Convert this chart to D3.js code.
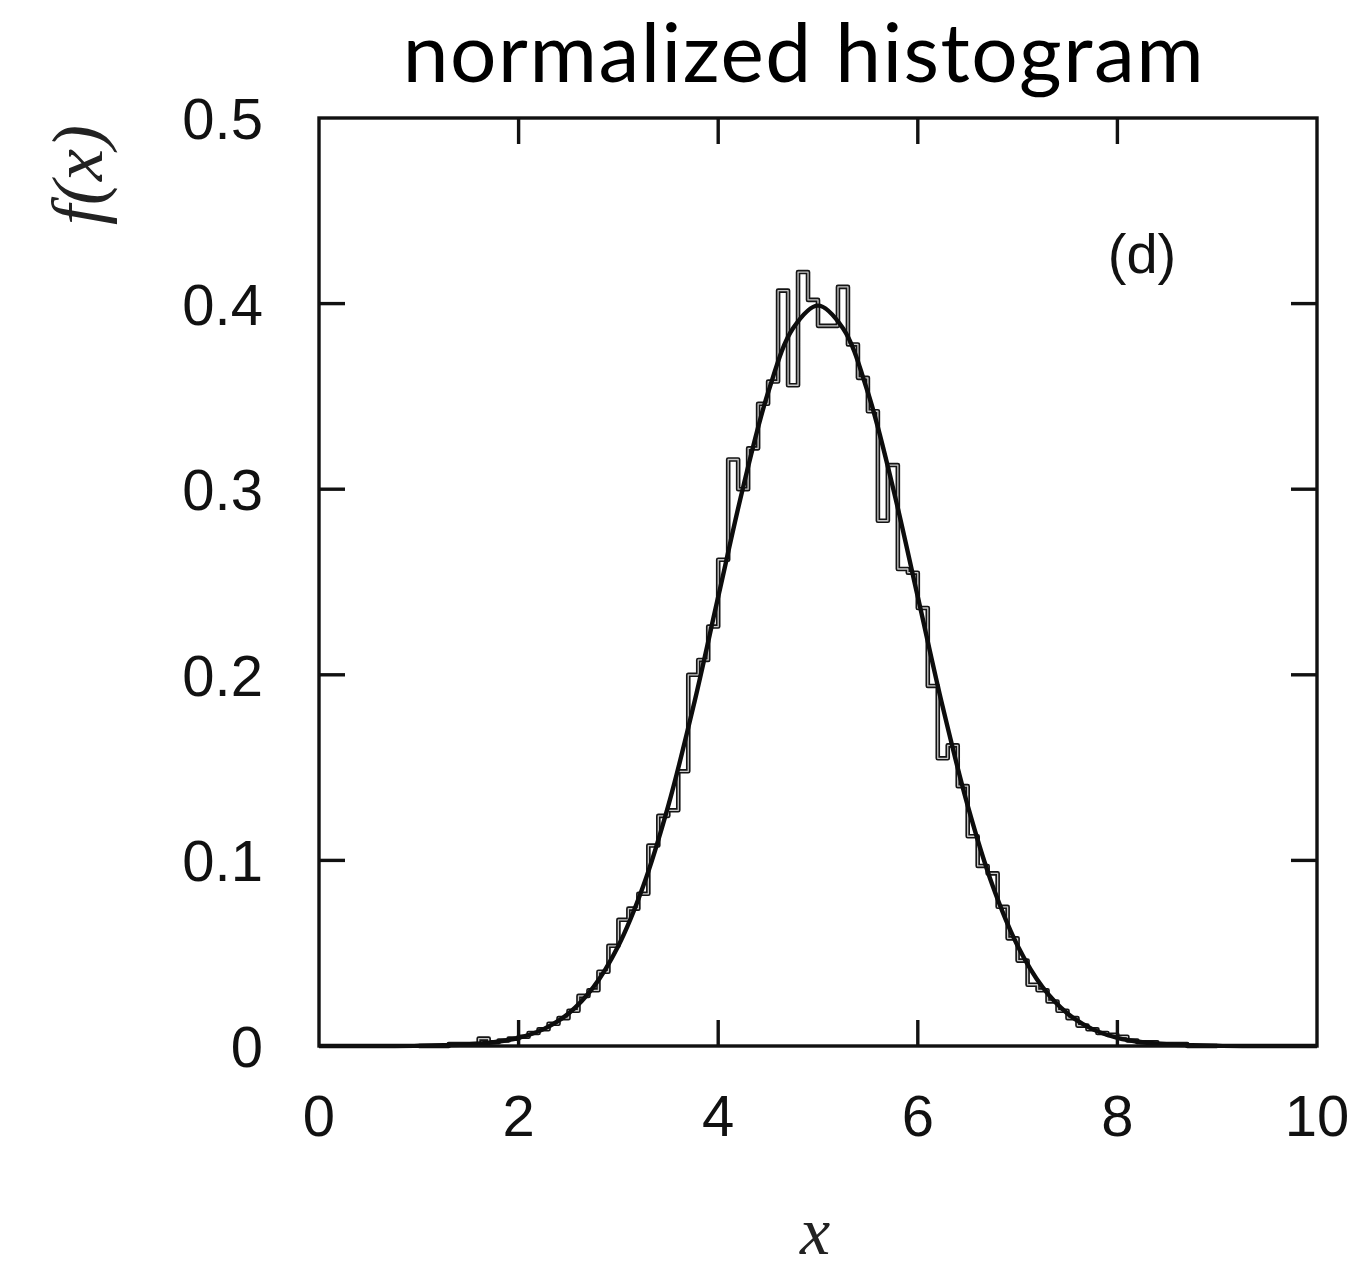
<!DOCTYPE html>
<html>
<head>
<meta charset="utf-8">
<script src="https://cdn.jsdelivr.net/npm/d3@7"></script>
<style>
  html, body { margin: 0; padding: 0; background: #fff; }
  svg { display: block; }
</style>
</head>
<body>
<svg id="chart" width="1364" height="1271"></svg>
<script>
// ---- data ----
const titleText = "normalized histogram";
const panelLabel = "(d)";
const xTicks = [0, 2, 4, 6, 8, 10];
const yTicks = [0, 0.1, 0.2, 0.3, 0.4, 0.5];
const yTickLabels = ["0", "0.1", "0.2", "0.3", "0.4", "0.5"];
const binWidth = 0.1;
// left edges of the histogram bins
const binStarts = [
  1.0, 1.1, 1.2, 1.3, 1.4, 1.5, 1.6, 1.7, 1.8, 1.9,
  2.0, 2.1, 2.2, 2.3, 2.4, 2.5, 2.6, 2.7, 2.8, 2.9,
  3.0, 3.1, 3.2, 3.3, 3.4, 3.5, 3.6, 3.7, 3.8, 3.9,
  4.0, 4.1, 4.2, 4.3, 4.4, 4.5, 4.6, 4.7, 4.8, 4.9,
  5.0, 5.1, 5.2, 5.3, 5.4, 5.5, 5.6, 5.7, 5.8, 5.9,
  6.0, 6.1, 6.2, 6.3, 6.4, 6.5, 6.6, 6.7, 6.8, 6.9,
  7.0, 7.1, 7.2, 7.3, 7.4, 7.5, 7.6, 7.7, 7.8, 7.9,
  8.0, 8.1, 8.2, 8.3, 8.4, 8.5, 8.6, 8.7, 8.8, 8.9
];
// normalized histogram heights
const binValues = [
  0.000, 0.000, 0.000, 0.001, 0.001, 0.001, 0.004, 0.002, 0.003, 0.004,
  0.005, 0.007, 0.009, 0.012, 0.015, 0.019, 0.027, 0.030, 0.040, 0.054,
  0.068, 0.074, 0.082, 0.108, 0.124, 0.127, 0.148, 0.200, 0.208, 0.226,
  0.262, 0.316, 0.300, 0.322, 0.346, 0.358, 0.407, 0.356, 0.417, 0.402,
  0.388, 0.388, 0.409, 0.378, 0.360, 0.342, 0.283, 0.313, 0.257, 0.255,
  0.236, 0.194, 0.155, 0.162, 0.140, 0.113, 0.097, 0.093, 0.075, 0.058,
  0.046, 0.033, 0.030, 0.024, 0.019, 0.015, 0.011, 0.009, 0.007, 0.006,
  0.005, 0.003, 0.002, 0.002, 0.001, 0.001, 0.001, 0.000, 0.000, 0.000
];
// smooth fitted density curve
const curveX = [
  0, 0.25, 0.5, 0.75, 1, 1.25, 1.5, 1.75, 2, 2.25, 2.5, 2.75, 3, 3.25, 3.5, 3.75, 4, 4.25, 4.5, 4.75,
  5, 5.25, 5.5, 5.75, 6, 6.25, 6.5, 6.75, 7, 7.25, 7.5, 7.75, 8, 8.25, 8.5, 8.75, 9, 9.25, 9.5, 9.75, 10
];
const curveY = [
  0.0000, 0.0000, 0.0000, 0.0000, 0.0001, 0.0004, 0.0009, 0.0020, 0.0044, 0.0091, 0.0175, 0.0317, 0.0540, 0.0863, 0.1295, 0.1826, 0.2420, 0.3011, 0.3521, 0.3867,
  0.3989, 0.3867, 0.3521, 0.3011, 0.2420, 0.1826, 0.1295, 0.0863, 0.0540, 0.0317, 0.0175, 0.0091, 0.0044, 0.0020, 0.0009, 0.0004, 0.0001, 0.0000, 0.0000, 0.0000, 0.0000
];

// ---- layout ----
const svg = d3.select("#chart");
const mLeft = 319, mRight = 1317, mTop = 118, mBottom = 1046;
const x = d3.scaleLinear().domain([0, 10]).range([mLeft, mRight]);
const y = d3.scaleLinear().domain([0, 0.5]).range([mBottom, mTop]);

const tickFont = "'Liberation Sans', Arial, Helvetica, sans-serif";

// title
svg.append("text")
  .attr("x", 804).attr("y", 82)
  .attr("text-anchor", "middle")
  .attr("font-family", "Lato, 'Open Sans', sans-serif")
  .attr("font-size", 82)
  .attr("letter-spacing", 1.5)
  .attr("fill", "#000")
  .text(titleText);

const plot = svg.append("g");

// histogram step outline
const pts = [];
binStarts.forEach((b, i) => {
  pts.push([b, binValues[i]]);
});
pts.push([binStarts[binStarts.length - 1] + binWidth, binValues[binValues.length - 1]]);
const stepLine = d3.line()
  .x(d => x(d[0])).y(d => y(d[1]))
  .curve(d3.curveStepAfter);

plot.append("path")
  .attr("d", stepLine(pts))
  .attr("fill", "none")
  .attr("stroke", "#151515")
  .attr("stroke-width", 4.6)
  .attr("stroke-linejoin", "round");
plot.append("path")
  .attr("d", stepLine(pts))
  .attr("fill", "none")
  .attr("stroke", "#c8c8c8")
  .attr("stroke-width", 1.3)
  .attr("stroke-linejoin", "round");

// fitted curve
const curvePts = curveX.map((v, i) => [v, curveY[i]]);
plot.append("path")
  .attr("d", d3.line().x(d => x(d[0])).y(d => y(d[1])).curve(d3.curveCatmullRom)(curvePts))
  .attr("fill", "none")
  .attr("stroke", "#0d0d0d")
  .attr("stroke-width", 4.4);

// frame
svg.append("rect")
  .attr("x", mLeft).attr("y", mTop)
  .attr("width", mRight - mLeft).attr("height", mBottom - mTop)
  .attr("fill", "none")
  .attr("stroke", "#111")
  .attr("stroke-width", 3.4);

// inner ticks
const tl = 26;
const innerX = xTicks.filter(t => t > 0 && t < 10);
const innerY = yTicks.filter(t => t > 0 && t < 0.5);
const ticks = svg.append("g").attr("stroke", "#111").attr("stroke-width", 3.4);
innerX.forEach(t => {
  ticks.append("line").attr("x1", x(t)).attr("x2", x(t)).attr("y1", mBottom).attr("y2", mBottom - tl);
  ticks.append("line").attr("x1", x(t)).attr("x2", x(t)).attr("y1", mTop).attr("y2", mTop + tl);
});
innerY.forEach(t => {
  ticks.append("line").attr("x1", mLeft).attr("x2", mLeft + tl).attr("y1", y(t)).attr("y2", y(t));
  ticks.append("line").attr("x1", mRight).attr("x2", mRight - tl).attr("y1", y(t)).attr("y2", y(t));
});

// x tick labels
svg.append("g").selectAll("text").data(xTicks).join("text")
  .attr("x", d => x(d))
  .attr("y", 1136)
  .attr("text-anchor", "middle")
  .attr("font-family", tickFont)
  .attr("font-size", 58)
  .attr("fill", "#111")
  .text(d => d);

// y tick labels
svg.append("g").selectAll("text").data(yTicks).join("text")
  .attr("x", 263)
  .attr("y", d => y(d) + 21)
  .attr("text-anchor", "end")
  .attr("font-family", tickFont)
  .attr("font-size", 58)
  .attr("fill", "#111")
  .text((d, i) => yTickLabels[i]);

// axis titles
svg.append("text")
  .attr("x", 815).attr("y", 1254)
  .attr("text-anchor", "middle")
  .attr("font-family", "'Liberation Serif', 'DejaVu Serif', serif")
  .attr("font-style", "italic")
  .attr("font-size", 68)
  .attr("fill", "#222")
  .text("x");

svg.append("text")
  .attr("transform", "translate(102,175) rotate(-90)")
  .attr("text-anchor", "middle")
  .attr("font-family", "'Liberation Serif', 'DejaVu Serif', serif")
  .attr("font-style", "italic")
  .attr("font-size", 72)
  .attr("fill", "#222")
  .text("f(x)");

// panel label
svg.append("text")
  .attr("x", 1142).attr("y", 273)
  .attr("text-anchor", "middle")
  .attr("font-family", tickFont)
  .attr("font-size", 56)
  .attr("fill", "#111")
  .text(panelLabel);
</script>
</body>
</html>
